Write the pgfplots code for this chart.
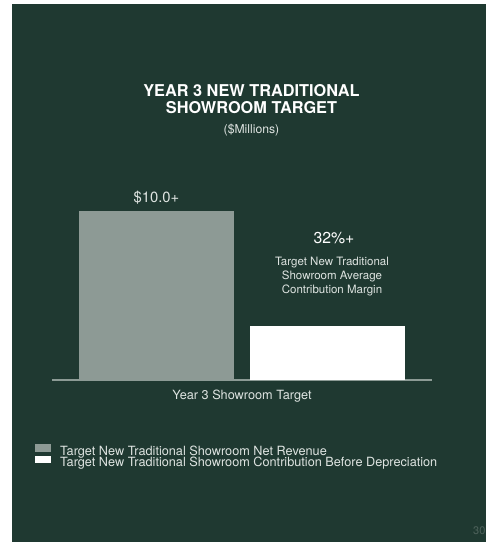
\documentclass[border=0pt]{standalone}
\usepackage{fontspec}
\setmainfont{TeX Gyre Heros}
\usepackage{pgfplots}
\pgfplotsset{compat=1.18}
\definecolor{bg}{RGB}{31,57,49}
\definecolor{bargray}{RGB}{141,154,149}
\definecolor{axisgray}{RGB}{140,155,149}
\definecolor{txt}{RGB}{222,228,225}
\definecolor{pagenum}{RGB}{78,98,91}
\begin{document}
\begin{tikzpicture}[x=1bp,y=1bp]
\useasboundingbox (0,0) rectangle (486,542);
\fill[white] (0,0) rectangle (486,542);
\fill[bg] (12,0) rectangle (486,538);
% titles
\node[anchor=base, inner sep=0pt, text=white, font=\fontsize{16.3bp}{18bp}\selectfont\bfseries] at (251.5,445) {YEAR 3 NEW TRADITIONAL};
\node[anchor=base, inner sep=0pt, text=white, font=\fontsize{16.3bp}{18bp}\selectfont\bfseries] at (251.5,428) {SHOWROOM TARGET};
\node[anchor=base, inner sep=0pt, text=txt, font=\fontsize{12.2bp}{14bp}\selectfont] at (251.5,408) {(\$Millions)};
% annotation for second bar
\node[anchor=base, inner sep=0pt, text=white, font=\fontsize{15.8bp}{18bp}\selectfont] at (334,298) {32\%+};
\node[anchor=base, inner sep=0pt, text=txt, font=\fontsize{11.5bp}{14bp}\selectfont] at (332,276) {Target New Traditional};
\node[anchor=base, inner sep=0pt, text=txt, font=\fontsize{11.5bp}{14bp}\selectfont] at (332,262) {Showroom Average};
\node[anchor=base, inner sep=0pt, text=txt, font=\fontsize{11.5bp}{14bp}\selectfont] at (332,248) {Contribution Margin};
% page number
\node[anchor=base west, inner sep=0pt, text=pagenum, font=\fontsize{11bp}{13bp}\selectfont] at (473,7) {30};
\begin{axis}[
  at={(52bp,162bp)}, anchor=south west,
  scale only axis, width=380bp, height=202.8bp,
  xmin=-0.611, xmax=1.611, ymin=0, ymax=12,
  axis x line*=bottom, axis y line=none,
  x axis line style={draw=axisgray, line width=1.3bp, -},
  xtick=\empty, ytick=\empty,
  clip=false,
  xlabel={Year 3 Showroom Target},
  xlabel style={at={(axis description cs:0.5,0)}, anchor=base, yshift=-20bp, inner sep=0pt, text=txt, font=\fontsize{12.7bp}{14bp}\selectfont},
  legend style={at={(-0.0447,-0.3156)}, anchor=north west, draw=none, fill=none,
    text=txt, font=\fontsize{12.7bp}{14bp}\selectfont, inner sep=0pt,
    row sep=-2.2bp, column sep=9bp,
    nodes={inner sep=0pt, text height=9bp, text depth=3bp}},
  legend cell align=left,
]
\addplot[ybar, bar width=0.906, bar shift=0pt, fill=bargray, draw=none,
  legend image code/.code={\fill[bargray] (0bp,0.5bp) rectangle (16bp,8bp);},
  nodes near coords, point meta=explicit symbolic,
  every node near coord/.append style={anchor=base, yshift=8bp, inner sep=0pt, text=txt, font=\fontsize{14.8bp}{16bp}\selectfont}]
  coordinates {(0,10) [\$10.0+]};
\addlegendentry{Target New Traditional Showroom Net Revenue}
\addplot[ybar, bar width=0.906, bar shift=0pt, fill=white, draw=none,
  legend image code/.code={\fill[white] (0bp,0.5bp) rectangle (16bp,8bp);}]
  coordinates {(1,3.2)};
\addlegendentry{Target New Traditional Showroom Contribution Before Depreciation}
\end{axis}
\end{tikzpicture}
\end{document}
